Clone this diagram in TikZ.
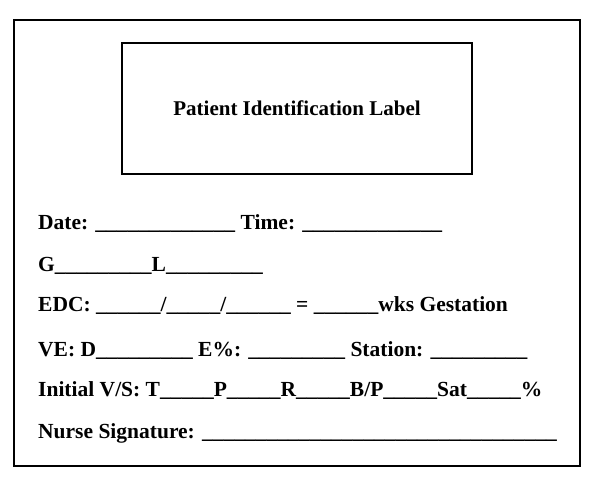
\documentclass[tikz,border=0pt]{standalone}
\usepackage{fontspec}
\setmainfont{Liberation Serif}
\tikzset{
  formline/.style={anchor=base west, inner sep=0pt, font=\fontsize{21.5}{26}\selectfont\bfseries},
  frame/.style={draw, line width=1.6pt}
}
\newcommand{\blank}[1]{\foreach \i in {1,...,#1}{\_}}
\begin{document}
\begin{tikzpicture}[x=1pt,y=-1pt]
  \useasboundingbox (0,0) rectangle (600,497);
  % outer frame and label box
  \draw[frame] (14,20) rectangle (580,466);
  \node[frame, minimum width=350pt, minimum height=131pt] (label) at (297,108.5) {};
  \node[font=\fontsize{21}{25}\selectfont\bfseries] (labeltext) at (label) {Patient Identification Label};
  % form lines
  \node[formline] (date) at (38,230) {Date: \blank{13} Time: \blank{13}};
  \node[formline] (gl) at (38,272) {G\blank{9}L\blank{9}};
  \node[formline] (edc) at (38,312) {EDC: \blank{6}/\blank{5}/\blank{6} = \blank{6}wks Gestation};
  \node[formline] (ve) at (38,356) {VE: D\blank{9} E\%: \blank{9} Station: \blank{9}};
  \node[formline] (vs) at (38,396) {Initial V/S: T\blank{5}P\blank{5}R\blank{5}B/P\blank{5}Sat\blank{5}\%};
  \node[formline] (nurse) at (38,438) {Nurse Signature: \blank{33}};
\end{tikzpicture}
\end{document}
